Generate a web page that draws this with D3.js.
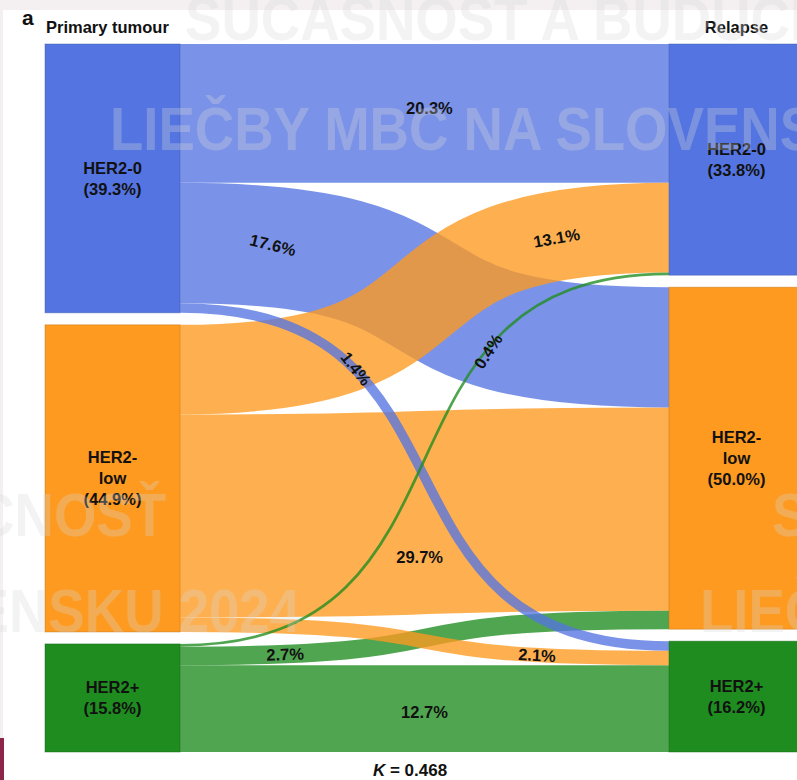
<!DOCTYPE html>
<html>
<head>
<meta charset="utf-8">
<script src="https://cdn.jsdelivr.net/npm/d3@7"></script>
<style>
  html, body { margin: 0; padding: 0; background: #ffffff; }
  svg { display: block; }
  text { font-family: "Liberation Sans", Arial, Helvetica, sans-serif; font-weight: bold; }
</style>
</head>
<body>
<svg id="chart" width="797" height="780"></svg>
<script>
// ---- data -------------------------------------------------------------
const categories = ["HER2-0", "HER2-low", "HER2+"];
const nodeNameLines = [["HER2-0"], ["HER2-", "low"], ["HER2+"]];
const columnTitles = ["Primary tumour", "Relapse"];
const primaryShares = [39.3, 44.9, 15.8];   // % of patients, primary tumour
const relapseShares = [33.8, 50.0, 16.2];   // % of patients, relapse
// flows from each primary category to relapse HER2-0 / HER2-low / HER2+
const flowFromHer2Zero = [20.3, 17.6, 1.4];
const flowFromHer2Low = [13.1, 29.7, 2.1];
const flowFromHer2Pos = [0.4, 2.7, 12.7];
const kappa = 0.468;
const watermarkLines = ["SÚČASNOSŤ A BUDÚCNOSŤ", "LIEČBY MBC NA SLOVENSKU 2024"];

// ---- layout -----------------------------------------------------------
const W = 797, H = 780;
const nodeTop = 44, nodeGap = 12, nodeWidth = 135, curvature = 0.65;
const svg = d3.select("#chart");

const yScale = d3.scaleLinear().domain([0, 100]).range([0, 684]);
const xScale = d3.scalePoint().domain(["primary", "relapse"]).range([45, 669]);
const color = d3.scaleOrdinal().domain(categories).range(["#5475e1", "#fe9a1f", "#1f8c1f"]);

const flows = [flowFromHer2Zero, flowFromHer2Low, flowFromHer2Pos];

function stackNodes(shares, side) {
  let y0 = nodeTop;
  return shares.map((v, i) => {
    const n = { i, side, value: v, name: categories[i], x0: xScale(side), y0, y1: y0 + yScale(v) };
    n.x1 = n.x0 + nodeWidth;
    y0 = n.y1 + nodeGap;
    return n;
  });
}
const leftNodes = stackNodes(primaryShares, "primary");
const rightNodes = stackNodes(relapseShares, "relapse");

// links: ordered by target inside each source, by source inside each target
const links = [];
flows.forEach((row, s) => row.forEach((v, t) => links.push({ s, t, value: v, width: yScale(v) })));
const srcOffset = leftNodes.map(n => n.y0);
links.forEach(l => { l.ys = srcOffset[l.s] + l.width / 2; srcOffset[l.s] += l.width; });
const tgtOffset = rightNodes.map(n => n.y0);
d3.sort(links, l => l.t, l => l.s).forEach(l => { l.yt = tgtOffset[l.t] + l.width / 2; tgtOffset[l.t] += l.width; });
links.forEach(l => { l.x0 = leftNodes[l.s].x1; l.x1 = rightNodes[l.t].x0; });

function linkPath(l) {
  const p = d3.path();
  const dx = l.x1 - l.x0;
  p.moveTo(l.x0, l.ys);
  p.bezierCurveTo(l.x0 + curvature * dx, l.ys, l.x1 - curvature * dx, l.yt, l.x1, l.yt);
  return p.toString();
}
// point on the link centre line at horizontal fraction u
function pointAt(l, u) {
  const dx = l.x1 - l.x0;
  const px = [l.x0, l.x0 + curvature * dx, l.x1 - curvature * dx, l.x1];
  const py = [l.ys, l.ys, l.yt, l.yt];
  const bz = (p, t) => (1 - t) ** 3 * p[0] + 3 * (1 - t) ** 2 * t * p[1] + 3 * (1 - t) * t * t * p[2] + t ** 3 * p[3];
  const target = l.x0 + u * dx;
  let lo = 0, hi = 1;
  for (let k = 0; k < 40; k++) { const m = (lo + hi) / 2; if (bz(px, m) < target) lo = m; else hi = m; }
  const t = (lo + hi) / 2;
  return [bz(px, t), bz(py, t)];
}

// ---- page furniture ---------------------------------------------------
svg.append("rect").attr("x", 0).attr("y", 0).attr("width", W).attr("height", 10).attr("fill", "#f4f0f1");
svg.append("rect").attr("x", 0).attr("y", 0).attr("width", 3).attr("height", 738).attr("fill", "#f4f0f1");
svg.append("rect").attr("x", 0).attr("y", 738).attr("width", 4).attr("height", H - 738).attr("fill", "#8c2549");

// ---- links ------------------------------------------------------------
const linkOrder = d3.sort(links, (a, b) => d3.descending(a.value, b.value));
svg.append("g").attr("fill", "none")
  .selectAll("path").data(linkOrder).join("path")
  .attr("d", linkPath)
  .attr("stroke", l => color(categories[l.s]))
  .attr("stroke-opacity", 0.78)
  .attr("stroke-width", l => Math.max(1.6, l.width));

// ---- nodes ------------------------------------------------------------
const nodes = leftNodes.concat(rightNodes);
const nodeG = svg.append("g").selectAll("g").data(nodes).join("g");
nodeG.append("rect")
  .attr("x", n => n.x0).attr("y", n => n.y0)
  .attr("width", nodeWidth).attr("height", n => n.y1 - n.y0)
  .attr("fill", n => color(n.name))
  .attr("stroke", n => d3.color(color(n.name)).darker(0.8))
  .attr("stroke-opacity", 0.45).attr("stroke-width", 1);

nodeG.each(function (n) {
  const lines = nodeNameLines[n.i].concat([`(${n.value.toFixed(1)}%)`]);
  const lh = 21;
  const cy = (n.y0 + n.y1) / 2 - (lines.length - 1) * lh / 2;
  const t = d3.select(this).append("text")
    .attr("text-anchor", "middle").attr("font-size", 16.5).attr("fill", "#111");
  lines.forEach((s, k) => t.append("tspan")
    .attr("x", n.x0 + nodeWidth / 2).attr("y", cy + k * lh).attr("dy", "0.36em").text(s));
});

// ---- link labels ------------------------------------------------------
// placement: horizontal fraction along the link, vertical nudge, rotation
const labelPlacement = [
  { u: 0.51, dy: -5, rot: 0 },    // 20.3
  { u: 0.19, dy: -2, rot: 14 },   // 17.6
  { u: 0.36, dy: -2, rot: 52 },   // 1.4
  { u: 0.77, dy: 2, rot: -10 },   // 13.1
  { u: 0.49, dy: 44, rot: 0 },    // 29.7
  { u: 0.73, dy: 0, rot: 3 },     // 2.1
  { u: 0.63, dy: 3, rot: -57 },   // 0.4
  { u: 0.215, dy: 0, rot: -2 },   // 2.7
  { u: 0.50, dy: 3, rot: 0 }      // 12.7
];
svg.append("g").selectAll("text").data(links).join("text")
  .attr("transform", (l, i) => {
    const pl = labelPlacement[i];
    const [px, py] = pointAt(l, pl.u);
    return `translate(${px},${py + pl.dy}) rotate(${pl.rot})`;
  })
  .attr("text-anchor", "middle").attr("dy", "0.36em")
  .attr("font-size", 16.5).attr("fill", "#111")
  .text(l => `${l.value.toFixed(1)}%`);

// ---- titles -----------------------------------------------------------
svg.append("text").attr("x", 22).attr("y", 25).attr("font-size", 21).attr("fill", "#111").text("a");
svg.append("text").attr("x", 46).attr("y", 33).attr("font-size", 16.5).attr("fill", "#111").text(columnTitles[0]);
svg.append("text").attr("x", xScale("relapse") + nodeWidth / 2).attr("y", 33)
  .attr("text-anchor", "middle").attr("font-size", 16.5).attr("fill", "#111").text(columnTitles[1]);
const kt = svg.append("text").attr("x", 410).attr("y", 776).attr("text-anchor", "middle")
  .attr("font-size", 17).attr("fill", "#111");
kt.append("tspan").attr("font-style", "italic").text("K");
kt.append("tspan").text(` = ${kappa}`);

// ---- watermark --------------------------------------------------------
const wm = svg.append("g").attr("fill", "#d6d6d6").attr("fill-opacity", 0.3)
  .attr("font-size", 62).style("pointer-events", "none");
[
  { line: 0, x: 185, y: 40, anchor: "start" },
  { line: 1, x: 110, y: 150, anchor: "start" },
  { line: 0, x: 166, y: 536, anchor: "end" },
  { line: 0, x: 772, y: 536, anchor: "start" },
  { line: 1, x: 300, y: 632, anchor: "end" },
  { line: 1, x: 700, y: 632, anchor: "start" }
].forEach(w => wm.append("text")
  .attr("transform", `translate(${w.x},${w.y}) scale(0.88,1)`)
  .attr("text-anchor", w.anchor).text(watermarkLines[w.line]));
</script>
</body>
</html>
